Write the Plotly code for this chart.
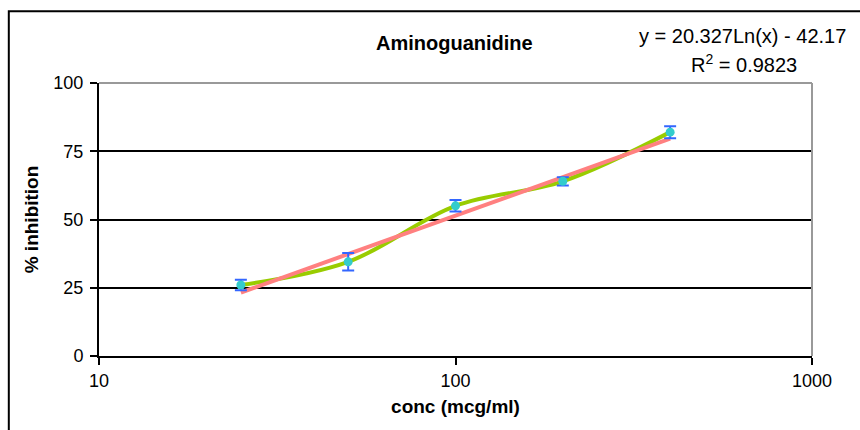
import numpy as np
import plotly.graph_objects as go

# Concentrations (mcg/ml) and measured % inhibition with error
conc = [25, 50, 100, 200, 400]
inhibition = [26.0, 34.5, 55.0, 64.0, 82.0]
error = [1.9, 3.2, 2.1, 1.5, 2.2]

# Logarithmic trendline coefficients: y = a*Ln(x) + b
trend_a = 20.327
trend_b = -42.17
r_squared = 0.9823

x_ticks = [10, 100, 1000]
y_ticks = [0, 25, 50, 75, 100]

font_family = "Liberation Sans, Arial, sans-serif"

trend_x = np.geomspace(conc[0], conc[-1], 120)
trend_y = trend_a * np.log(trend_x) + trend_b

fig = go.Figure()

# Smoothed line through the data
fig.add_trace(go.Scatter(
    x=conc, y=inhibition, mode="lines",
    line=dict(color="#99CC00", width=4, shape="spline", smoothing=1.0),
    hoverinfo="skip", showlegend=False,
))

# Logarithmic trendline
fig.add_trace(go.Scatter(
    x=trend_x, y=trend_y, mode="lines",
    line=dict(color="#FF8080", width=4),
    hoverinfo="skip", showlegend=False,
))

# Data markers with error bars
fig.add_trace(go.Scatter(
    x=conc, y=inhibition, mode="markers",
    marker=dict(color="#33CCCC", size=9),
    error_y=dict(type="data", array=error, visible=True,
                 color="#3366FF", thickness=2, width=6),
    showlegend=False,
))

fig.update_layout(
    width=860, height=430,
    margin=dict(l=99, r=48, t=83, b=74),
    paper_bgcolor="white", plot_bgcolor="white",
    font=dict(family=font_family, size=18, color="black"),
    xaxis=dict(
        type="log", range=[1, 3],
        tickvals=x_ticks, ticktext=[str(v) for v in x_ticks],
        ticks="outside", ticklen=7, tickwidth=2, tickcolor="black",
        showline=True, linecolor="black", linewidth=2,
        showgrid=False, zeroline=False,
        mirror=False,
        title=dict(text="<b>conc (mcg/ml)</b>", font=dict(size=19), standoff=10),
        tickfont=dict(size=18),
    ),
    yaxis=dict(
        range=[0, 100],
        tickvals=y_ticks,
        ticks="outside", ticklen=7, tickwidth=2, tickcolor="black",
        ticklabelstandoff=3,
        showline=True, linecolor="black", linewidth=2,
        showgrid=True, gridcolor="black", gridwidth=2,
        zeroline=False,
        title=dict(text="<b>% inhibition</b>", font=dict(size=19), standoff=10),
        tickfont=dict(size=18),
    ),
    shapes=[
        # Outer chart frame
        dict(type="rect", xref="paper", yref="paper",
             x0=-0.1265, x1=1.1, y0=-0.3, y1=1.263,
             line=dict(color="black", width=2), layer="below"),
        # Plot-area border on top and right
        dict(type="line", xref="paper", yref="paper", x0=0, x1=1, y0=1, y1=1,
             line=dict(color="#999999", width=2)),
        dict(type="line", xref="paper", yref="paper", x0=1, x1=1, y0=0, y1=1,
             line=dict(color="#999999", width=2)),
    ],
    annotations=[
        dict(text="<b>Aminoguanidine</b>", xref="paper", yref="paper",
             x=0.499, y=1.146, xanchor="center", yanchor="middle",
             showarrow=False, font=dict(size=20)),
        dict(text=f"y = {trend_a}Ln(x) - {abs(trend_b)}", xref="paper", yref="paper",
             x=0.903, y=1.172, xanchor="center", yanchor="middle",
             showarrow=False, font=dict(size=20)),
        dict(text=f"R<sup>2</sup> = {r_squared}", xref="paper", yref="paper",
             x=0.905, y=1.07, xanchor="center", yanchor="middle",
             showarrow=False, font=dict(size=20)),
    ],
)

fig.write_html("out.html")
